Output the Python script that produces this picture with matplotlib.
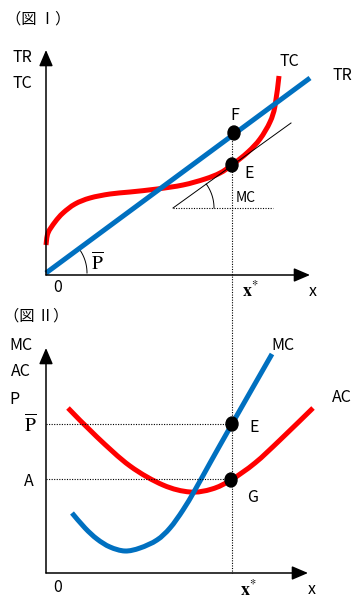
import numpy as np
import matplotlib
matplotlib.use("Agg")
import matplotlib.pyplot as plt
from matplotlib.patches import Ellipse, PathPatch
from matplotlib.path import Path

plt.rcParams['font.family'] = ['Noto Sans CJK JP', 'DejaVu Sans']
plt.rcParams['mathtext.fontset'] = 'stix'

RED = '#FF0000'
BLUE = '#0070C0'

# ---- Figure I data (pixel-space schematic coordinates) ----
tr_x = [46, 310]
tr_y = [273, 78]
tc_x = [46, 48, 55, 63, 75, 90, 110, 130, 157, 183, 205, 220, 232, 248, 260, 270, 275, 279]
tc_y = [245, 233, 222, 213, 204, 198, 194, 192, 189, 185, 179, 173, 165, 152, 139, 122, 106, 76]
tangent_x = [173, 291]
tangent_y = [208, 123]
point_F = (234, 133)
point_E1 = (232, 165)
xstar = 232

# ---- Figure II data ----
mc_x = [72, 85, 97, 110, 125, 140, 157, 170, 183, 195, 210, 232, 272]
mc_y = [513, 528, 539, 547, 551, 548, 540, 528, 510, 490, 463, 424, 354]
ac_x = [68, 97, 130, 163, 190, 212, 231, 255, 280, 313]
ac_y = [408, 437, 466, 485, 492, 489, 480, 463, 440, 408]
p_bar_level = 424
a_level = 479
point_E2 = (232, 424)
point_G = (231, 480)

fig = plt.figure(figsize=(3.63, 6.02), dpi=100)
ax = fig.add_axes([0, 0, 1, 1])
ax.set_xlim(0, 363)
ax.set_ylim(602, 0)
ax.axis('off')


def smooth_curve(xs, ys, color):
    """Draw a smooth path through the read points (Catmull-Rom as Bezier)."""
    P = np.column_stack([xs, ys]).astype(float)
    n = len(P)
    verts = [tuple(P[0])]
    codes = [Path.MOVETO]
    for i in range(n - 1):
        p0 = P[i - 1] if i > 0 else P[i]
        p1 = P[i]
        p2 = P[i + 1]
        p3 = P[i + 2] if i + 2 < n else P[i + 1]
        c1 = p1 + (p2 - p0) / 6.0
        c2 = p2 - (p3 - p1) / 6.0
        verts += [tuple(c1), tuple(c2), tuple(p2)]
        codes += [Path.CURVE4] * 3
    patch = PathPatch(Path(verts, codes), facecolor='none', edgecolor=color,
                      lw=3.6, capstyle='butt', joinstyle='round')
    ax.add_patch(patch)


def arrow(x0, y0, x1, y1):
    ax.annotate('', xy=(x1, y1), xytext=(x0, y0),
                arrowprops=dict(arrowstyle='-|>,head_length=0.7,head_width=0.3',
                                color='black', lw=1.1, shrinkA=0, shrinkB=0,
                                mutation_scale=14))

dot = (0, (1, 1.3))

# ---- Figure I ----
arrow(46, 275, 46, 50)
arrow(46, 275, 310, 275)
ax.plot([xstar, xstar], [point_F[1], 573], color='black', lw=0.8, ls=dot)
ax.plot(tangent_x, tangent_y, color='black', lw=0.7)
ax.plot([173, 273], [208, 208], color='black', lw=0.8, ls=dot)
ang = np.arctan2(tangent_y[0] - tangent_y[1], tangent_x[1] - tangent_x[0])
t = np.linspace(0, ang, 40)
ax.plot(173 + 41 * np.cos(t), 208 - 41 * np.sin(t), color='black', lw=0.7)
ang0 = np.arctan2(tr_y[0] - tr_y[1], tr_x[1] - tr_x[0])
t0 = np.linspace(0, ang0, 40)
ax.plot(46 + 41 * np.cos(t0), 273 - 41 * np.sin(t0), color='black', lw=0.7)

smooth_curve(tc_x, tc_y, RED)
ax.plot(tr_x, tr_y, color=BLUE, lw=3.6, solid_capstyle='butt')
for (px, py) in [point_F, point_E1]:
    ax.add_patch(Ellipse((px, py), 12, 14, color='black', zorder=5))

fs = 11.5
ax.text(38, 19, '（図 Ⅰ）', fontsize=11, ha='center', va='center')
ax.text(22, 57, 'TR', fontsize=fs, ha='center', va='center')
ax.text(22, 83, 'TC', fontsize=fs, ha='center', va='center')
ax.text(289, 62, 'TC', fontsize=fs, ha='center', va='center')
ax.text(342, 75, 'TR', fontsize=fs, ha='center', va='center')
ax.text(235, 115, 'F', fontsize=fs, ha='center', va='center')
ax.text(249, 173, 'E', fontsize=fs, ha='center', va='center')
ax.text(246, 198, 'MC', fontsize=10, ha='center', va='center')
ax.text(97, 263, r'$\overline{\mathrm{P}}$', fontsize=14, ha='center', va='center')
ax.text(58, 288, '0', fontsize=fs, ha='center', va='center')
ax.text(250, 290, r'$\mathbf{x}^{*}$', fontsize=13, ha='center', va='center')
ax.text(313, 291, 'x', fontsize=fs, ha='center', va='center')

# ---- Figure II ----
arrow(46, 573, 46, 348)
arrow(46, 573, 308, 573)
ax.plot([46, point_E2[0]], [p_bar_level, p_bar_level], color='black', lw=0.8, ls=dot)
ax.plot([46, point_G[0]], [a_level, a_level], color='black', lw=0.8, ls=dot)
smooth_curve(ac_x, ac_y, RED)
smooth_curve(mc_x, mc_y, BLUE)
for (px, py) in [point_E2, point_G]:
    ax.add_patch(Ellipse((px, py), 12, 14, color='black', zorder=5))

ax.text(36, 316, '（図 Ⅱ）', fontsize=11, ha='center', va='center')
ax.text(21, 345, 'MC', fontsize=fs, ha='center', va='center')
ax.text(21, 372, 'AC', fontsize=fs, ha='center', va='center')
ax.text(14, 400, 'P', fontsize=fs, ha='center', va='center')
ax.text(30, 425, r'$\overline{\mathrm{P}}$', fontsize=14, ha='center', va='center')
ax.text(29, 481, 'A', fontsize=fs, ha='center', va='center')
ax.text(283, 345, 'MC', fontsize=fs, ha='center', va='center')
ax.text(342, 397, 'AC', fontsize=fs, ha='center', va='center')
ax.text(254, 427, 'E', fontsize=fs, ha='center', va='center')
ax.text(253, 497, 'G', fontsize=fs, ha='center', va='center')
ax.text(58, 587, '0', fontsize=fs, ha='center', va='center')
ax.text(248, 589, r'$\mathbf{x}^{*}$', fontsize=13, ha='center', va='center')
ax.text(312, 589, 'x', fontsize=fs, ha='center', va='center')

fig.savefig('out.png', dpi=100)
